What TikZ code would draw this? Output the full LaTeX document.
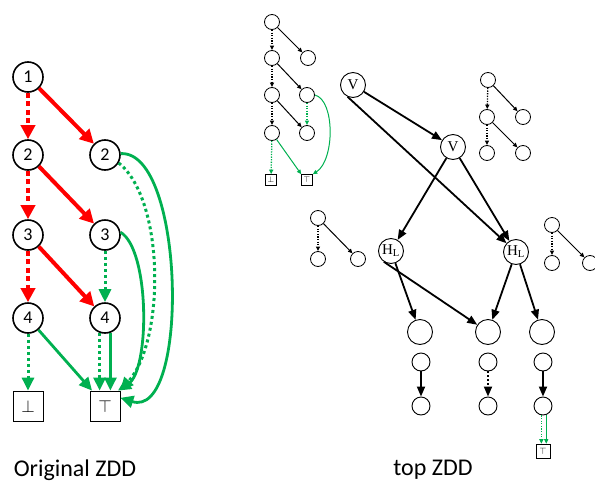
\documentclass[tikz,border=0pt]{standalone}
\usepackage{fontspec}
\setmainfont{Carlito}
\newfontfamily\zddserif{Liberation Serif}
\usetikzlibrary{arrows.meta}
\definecolor{zddred}{RGB}{255,0,0}
\definecolor{zddgreen}{RGB}{0,176,80}
\begin{document}
\begin{tikzpicture}[x=1pt,y=-1pt,
    bignode/.style={circle,draw,line width=1.6pt,minimum size=30pt,inner sep=0pt,font=\fontsize{18}{18}\selectfont},
    bigterm/.style={rectangle,draw,line width=0.8pt,minimum size=30pt,inner sep=0pt,font=\fontsize{16}{16}\selectfont},
    hiarc/.style={zddred,line width=4pt,-{Triangle[length=14pt,width=14pt]}},
    loarc/.style={zddred,line width=4pt,dash pattern=on 5pt off 3.5pt,-{Triangle[length=14pt,width=14pt]}},
    ghiarc/.style={zddgreen,line width=2.8pt,-{Triangle[length=13pt,width=12pt]}},
    gloarc/.style={zddgreen,line width=3pt,dash pattern=on 3pt off 3pt,-{Triangle[length=13pt,width=12pt]}},
    tinynode/.style={circle,draw,line width=0.8pt,minimum size=15pt,inner sep=0pt},
    tinyterm/.style={rectangle,draw,line width=0.6pt,minimum size=11pt,inner sep=0pt,font=\fontsize{8}{8}\selectfont},
    thin/.style={line width=1pt,-{Triangle[length=4.5pt,width=4pt]}},
    thindot/.style={thin,line width=1.3pt,dash pattern=on 1.3pt off 1.3pt},
    gthin/.style={thin,zddgreen},
    gthindot/.style={thindot,zddgreen},
    opnode/.style={circle,draw,line width=0.9pt,minimum size=25pt,inner sep=0pt,font=\zddserif\fontsize{15}{15}\selectfont},
    midnode/.style={circle,draw,line width=0.9pt,minimum size=18pt,inner sep=0pt},
    thick arc/.style={line width=1.8pt,-{Triangle[length=10pt,width=8pt]}},
    thick dot/.style={thick arc,dash pattern=on 2pt off 2pt},
    caption/.style={font=\fontsize{24}{24}\selectfont}]
    \useasboundingbox (0,0) rectangle (595,485);
    % original ZDD
    \node[bignode] (n1) at (28,77) {1};
    \node[bignode] (n2l) at (28,155) {2};
    \node[bignode] (n2r) at (105,155) {2};
    \node[bignode] (n3l) at (28,235) {3};
    \node[bignode] (n3r) at (105,235) {3};
    \node[bignode] (n4l) at (28,318) {4};
    \node[bignode] (n4r) at (105,318) {4};
    \node[bigterm] (tb) at (28,406) {$\bot$};
    \node[bigterm] (tt) at (105,406) {$\top$};
    \draw[loarc] (n1) -- (n2l);
    \draw[hiarc] (n1) -- (n2r);
    \draw[loarc] (n2l) -- (n3l);
    \draw[hiarc] (n2l) -- (n3r);
    \draw[loarc] (n3l) -- (n4l);
    \draw[hiarc] (n3l) -- (n4r);
    \draw[gloarc] (n3r) -- (n4r);
    \draw[gloarc] (n4l) -- (tb);
    \draw[ghiarc] (n4l) -- (tt.130);
    \draw[gloarc] (n4r.250) -- (n4r.250 |- tt.north);
    \draw[ghiarc] (n4r.290) -- (n4r.290 |- tt.north);
    \draw[ghiarc] (n3r.10) .. controls (150,250) and (150,370) .. (tt.50);
    \draw[gloarc] (n2r.-30) .. controls (165,200) and (165,340) .. (tt.north east);
    \draw[ghiarc] (n2r.5) .. controls (185,150) and (190,420) .. (tt.28);
    \node[caption] (cap1) at (75,470) {Original ZDD};
    % top ZDD: small pieces
    \node[tinynode] (ta) at (272,22) {};
    \node[tinynode] (tb2) at (272,58) {};
    \node[tinynode] (tc) at (308,58) {};
    \node[tinynode] (td) at (272,95) {};
    \node[tinynode] (te) at (307,95) {};
    \node[tinynode] (tf) at (272,133) {};
    \node[tinynode] (tg) at (307,133) {};
    \node[tinyterm] (tbot) at (271,180) {$\bot$};
    \node[tinyterm] (ttop) at (307,180) {$\top$};
    \draw[thindot] (ta) -- (tb2);
    \draw[thin] (ta) -- (tc);
    \draw[thindot] (tb2) -- (td);
    \draw[thin] (tb2) -- (te);
    \draw[thindot] (td) -- (tf);
    \draw[thin] (td) -- (tg);
    \draw[gthindot] (te) -- (tg);
    \draw[gthin] (te.east) .. controls (335,100) and (335,160) .. (ttop.north east);
    \draw[gthindot] (tf) -- (tbot);
    \draw[gthin] (tf) -- (ttop.north west);
    \node[tinynode] (ua) at (488,80) {};
    \node[tinynode] (ub) at (487,117) {};
    \node[tinynode] (uc) at (523,117) {};
    \node[tinynode] (ud) at (487,153) {};
    \node[tinynode] (ue) at (523,153) {};
    \draw[thindot] (ua) -- (ub);
    \draw[thin] (ua) -- (uc);
    \draw[thindot] (ub) -- (ud);
    \draw[thin] (ub) -- (ue);
    \node[tinynode] (la) at (318,218) {};
    \node[tinynode] (lb) at (318,259) {};
    \node[tinynode] (lc) at (358,259) {};
    \draw[thindot] (la) -- (lb);
    \draw[thin] (la) -- (lc);
    \node[tinynode] (ra) at (552,225) {};
    \node[tinynode] (rb) at (552,263) {};
    \node[tinynode] (rc) at (590,263) {};
    \draw[thindot] (ra) -- (rb);
    \draw[thin] (ra) -- (rc);
    % top ZDD: main part
    \node[opnode] (v1) at (353,85) {V};
    \node[opnode] (v2) at (453,147) {V};
    \node[opnode] (h1) at (391,251) {H\textsubscript{L}};
    \node[opnode] (h2) at (516,252) {H\textsubscript{L}};
    \node[opnode] (b1) at (420,332) {};
    \node[opnode] (b2) at (488,332) {};
    \node[opnode] (b3) at (542,332) {};
    \draw[thick arc] (v1) -- (v2);
    \draw[thick arc] (v1.245) -- (h2);
    \draw[thick arc] (v2) -- (h1);
    \draw[thick arc] (v2) -- (h2);
    \draw[thick arc] (h1) -- (b1);
    \draw[thick arc] (h1.236) -- (b2);
    \draw[thick arc] (h2) -- (b2);
    \draw[thick arc] (h2) -- (b3);
    \node[midnode] (s1a) at (421,362) {};
    \node[midnode] (s1b) at (421,406) {};
    \node[midnode] (s2a) at (488,362) {};
    \node[midnode] (s2b) at (488,406) {};
    \node[midnode] (s3a) at (543,362) {};
    \node[midnode] (s3b) at (543,406) {};
    \node[tinyterm,minimum size=14pt,font=\fontsize{9}{9}\selectfont] (t3) at (543,451) {$\top$};
    \draw[thick arc] (s1a) -- (s1b);
    \draw[thick dot] (s2a) -- (s2b);
    \draw[thick arc] (s3a) -- (s3b);
    \draw[gthindot] (s3b.260) -- (s3b.260 |- t3.north);
    \draw[gthin] (s3b.290) -- (s3b.290 |- t3.north);
    \node[caption] (cap2) at (433,470) {top ZDD};
\end{tikzpicture}
\end{document}
